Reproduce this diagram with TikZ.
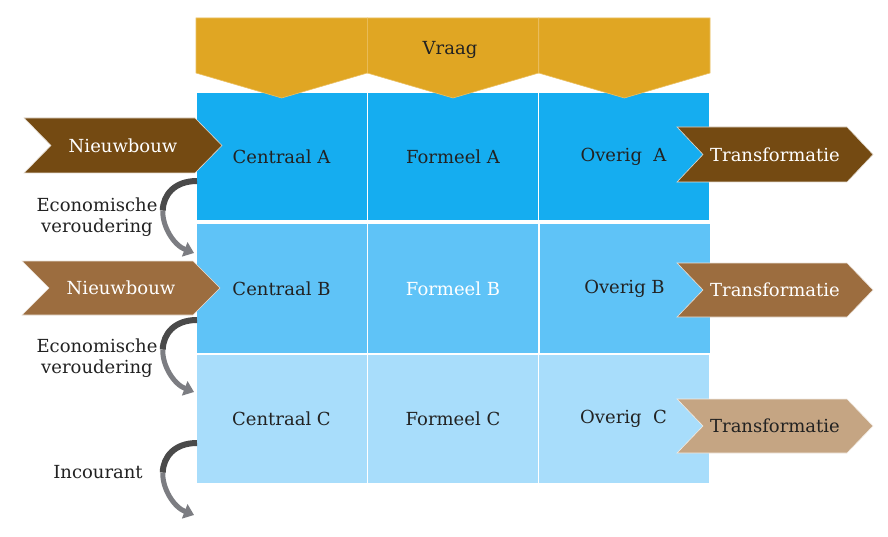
\documentclass[tikz,border=0pt]{standalone}
\usepackage{fontspec}
\setmainfont{DejaVu Serif}
\usetikzlibrary{arrows.meta}
\definecolor{gold}{HTML}{E0A623}
\definecolor{goldline}{HTML}{EBC063}
\definecolor{blueA}{HTML}{15ADF0}
\definecolor{blueB}{HTML}{5FC3F7}
\definecolor{blueC}{HTML}{A8DDFB}
\definecolor{brownD}{HTML}{744A12}
\definecolor{brownM}{HTML}{9C6D3F}
\definecolor{brownL}{HTML}{C5A583}
\definecolor{txt}{HTML}{222222}
\definecolor{grayD}{HTML}{4A4A4A}
\definecolor{grayL}{HTML}{7C7D82}
\tikzset{
  lbl/.style={font=\fontsize{18}{21}\selectfont, text=txt, inner sep=0pt, align=center},
  cell/.style={draw=white, line width=1pt, minimum width=171pt, inner sep=0pt,
    font=\fontsize{18}{21}\selectfont, text=txt},
  chevtext/.style={font=\fontsize{18}{21}\selectfont, inner sep=0pt},
  curvA/.style={grayD, line width=6pt},
  curvB/.style={grayL, line width=5pt, -{Triangle[width=15pt,length=10pt]}},
}
% name, xl, xr, ytop, ybot, depth, fill, text, textcolor
\newcommand{\chevron}[9]{%
  \path[fill=#7, draw=white!80!#7, line width=0.6pt]
    (#2,#4) -- (#3-#6,#4) -- (#3,{(#4+#5)/2}) -- (#3-#6,#5) -- (#2,#5)
    -- (#2+#6,{(#4+#5)/2}) -- cycle;
  \node[chevtext, text=#9] (#1) at ({(#2+#3)/2},{(#4+#5)/2}) {#8};
}
\begin{document}
\begin{tikzpicture}[x=1pt,y=-1pt]
\useasboundingbox[fill=white] (0,0) rectangle (888,537);

% grid
\node[cell, fill=blueA, minimum height=128pt] (cA) at (281.5,157) {Centraal A};
\node[cell, fill=blueA, minimum height=128pt] (fA) at (453,157) {Formeel A};
\node[cell, fill=blueA, minimum height=128pt] (oA) at (623.5,157) {Overig\ \ A};
\node[cell, fill=blueB, minimum height=130pt] (cB) at (281.5,288.5) {Centraal B};
\node[cell, fill=blueB, minimum height=130pt, text=white] (fB) at (453,288.5) {Formeel B};
\node[cell, fill=blueB, minimum height=130pt] (oB) at (624.5,288.5) {Overig B};
\node[cell, fill=blueC, minimum height=129pt] (cC) at (281.5,418.5) {Centraal C};
\node[cell, fill=blueC, minimum height=129pt] (fC) at (453,418.5) {Formeel C};
\node[cell, fill=blueC, minimum height=129pt] (oC) at (623.5,418.5) {Overig\ \ C};

% Vraag banner
\foreach \xl/\xr in {196/367.3, 367.3/538.7, 538.7/710}{
  \path[fill=gold, draw=goldline, line width=0.6pt]
    (\xl,18) -- (\xr,18) -- (\xr,73) -- ({(\xl+\xr)/2},98) -- (\xl,73) -- cycle;
}
\node[chevtext, text=txt] (vraag) at (450,50) {Vraag};

% left arrows
\chevron{nb1}{24}{222}{118}{173}{27}{brownD}{Nieuwbouw}{white}
\chevron{nb2}{22}{220}{261}{315}{27}{brownM}{Nieuwbouw}{white}

% right arrows
\chevron{tr1}{677}{873}{127}{182}{26}{brownD}{Transformatie}{white}
\chevron{tr2}{677}{873}{263}{317}{26}{brownM}{Transformatie}{white}
\chevron{tr3}{677}{873}{399}{453}{26}{brownL}{Transformatie}{txt}

% left labels
\node[lbl] (ev1) at (97,217) {Economische\\veroudering};
\node[lbl] (ev2) at (97,358) {Economische\\veroudering};
\node[lbl] (inc) at (98,472) {Incourant};

% curved arrows
\coordinate (s1) at (197,181);  \coordinate (m1) at (162.75,210.5); \coordinate (e1) at (194,253);
\coordinate (s2) at (197,320);  \coordinate (m2) at (162.75,349.5); \coordinate (e2) at (194,392);
\coordinate (s3) at (197,443);  \coordinate (m3) at (162.75,472.5); \coordinate (e3) at (194,515);
\foreach \i in {1,2,3}{
  \draw[curvB] (m\i) .. controls +(-0.5,15.75) and +(-20.5,-8) .. (e\i);
  \draw[curvA] (s\i) .. controls +(-22.5,0) and +(0.5,-15.75) .. (m\i);
}
\end{tikzpicture}
\end{document}
